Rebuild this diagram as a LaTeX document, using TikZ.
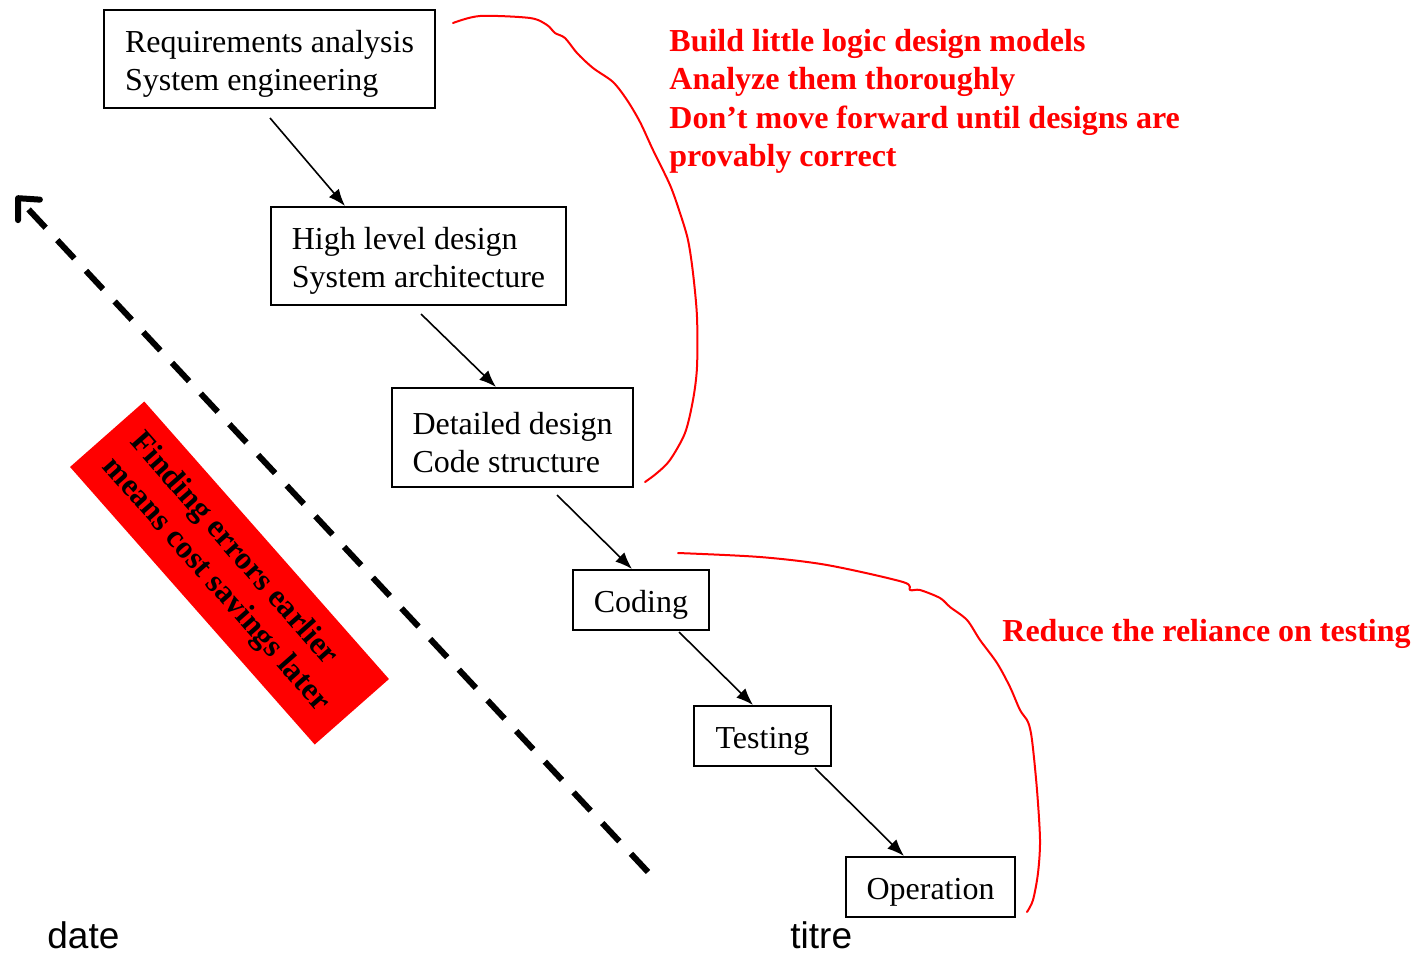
\documentclass[tikz,border=0pt]{standalone}
\usepackage{fontspec}
\setmainfont{Liberation Serif}
\newfontfamily\arialfont{Liberation Sans}
\usetikzlibrary{arrows.meta,calc}
\newcommand\tallstrut{\rule{0pt}{16pt}}
\begin{document}
\begin{tikzpicture}[x=0.5pt,y=-0.5pt,
  stage/.style={draw=black,line width=1pt,inner sep=0pt,align=left,
    font=\fontsize{16}{19}\selectfont},
  flow/.style={line width=0.8pt,-{Latex[length=8.5pt,width=6.5pt]}},
  note/.style={text=red,inner sep=0pt,align=left,
    font=\bfseries\fontsize{16}{19.25}\selectfont},
  bracket/.style={red,line width=1pt,line join=round,line cap=round},
  foot/.style={inner sep=0pt,font=\arialfont\fontsize{18.5}{21}\selectfont}]
\useasboundingbox (0,0) rectangle (1418,954);

\node[stage,minimum width=165.5pt,minimum height=49pt] (req) at (269.5,59)
  {\tallstrut Requirements analysis\\System engineering};
\node[stage,minimum width=147.5pt,minimum height=49pt] (hl) at (418.5,256)
  {\tallstrut High level design\\System architecture};
\node[stage,minimum width=120.5pt,minimum height=49.5pt] (dd) at (512.5,437.5)
  {\tallstrut Detailed design\\Code structure};
\node[stage,minimum width=68pt,minimum height=30pt] (cod) at (641,600) {\tallstrut Coding};
\node[stage,minimum width=68.5pt,minimum height=30pt] (tst) at (762.5,736) {\tallstrut Testing};
\node[stage,minimum width=84.5pt,minimum height=30pt] (op) at (930.5,887) {\tallstrut Operation};

\draw[flow] ([shift={(167,9)}]req.south west) -- ([shift={(75,0)}]hl.north west);
\draw[flow] ([shift={(151,8)}]hl.south west) -- ([shift={(105,0)}]dd.north west);
\draw[flow] ([shift={(166,7)}]dd.south west) -- ([shift={(60,0)}]cod.north west);
\draw[flow] ([shift={(107,1)}]cod.south west) -- ([shift={(60,0)}]tst.north west);
\draw[flow] ([shift={(122,1)}]tst.south west) -- ([shift={(59,0)}]op.north west);

% dashed arrow
\coordinate (dstart) at (648,872);
\coordinate (dend) at (16,196);
\draw[line width=3pt,dash pattern=on 12.5pt off 8.5pt,
  -{Straight Barb[length=8pt,width=15pt,line cap=round,line join=round]}]
  (dstart) -- (dend);

% red rotated box
\node[fill=red,rotate=-48.6,minimum width=185pt,minimum height=49.5pt,
  inner sep=0pt,align=left,font=\bfseries\fontsize{16}{18.5}\selectfont]
  (tip) at (229.5,573) {Finding errors earlier\\means cost savings later};

% red notes
\node[note,anchor=west] (n1) at (669,101.5)
  {Build little logic design models\\Analyze them thoroughly\\Don’t move forward until designs are\\provably correct};
\node[note,anchor=west] (n2) at (1002,634) {Reduce the reliance on testing};

% red brackets
\draw[bracket] plot[smooth,tension=0.5] coordinates {
  (453,23) (480,16) (530,18) (547,25) (555,33) (565,38) (577,53) (593,68)
  (613,82) (627,100) (640,122) (653,150) (670,185) (680,213) (688,240)
  (693,273) (697,317) (697,367) (693,400) (685,433) (670,460) (657,473) (645,482)};
\draw[bracket] plot[smooth,tension=0.5] coordinates {
  (678,553) (760,557) (827,565) (903,582) (910,590) (920,590) (940,598)
  (950,607) (967,620) (980,640) (997,663) (1010,687) (1020,710) (1028,722)
  (1032,740) (1037,790) (1040,840) (1038,873) (1033,900) (1027,912)};

% footer
\node[foot,anchor=base west] (date) at (47,948) {date};
\node[foot,anchor=base west] (titre) at (790,948) {titre};
\end{tikzpicture}
\end{document}
